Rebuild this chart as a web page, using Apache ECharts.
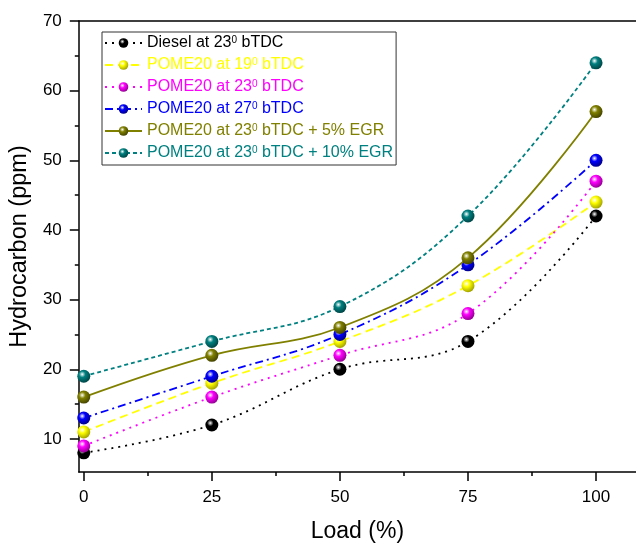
<!DOCTYPE html>
<html>
<head>
<meta charset="utf-8">
<script src="https://cdn.jsdelivr.net/npm/echarts@6/dist/echarts.min.js"></script>
<style>html,body{margin:0;padding:0;background:#fff}#c{width:636px;height:548px}</style>
</head>
<body>
<div id="c"></div>
<script>
const loads = [0, 25, 50, 75, 100];
const diesel23 = [8, 12, 20, 24, 42];
const pome19 = [11, 18, 24, 32, 44];
const pome23 = [9, 16, 22, 28, 47];
const pome27 = [13, 19, 25, 35, 50];
const pome23egr5 = [16, 22, 26, 36, 57];
const pome23egr10 = [19, 24, 29, 42, 64];
const namePrefix = ['Diesel at 23', 'POME20 at 19', 'POME20 at 23', 'POME20 at 27', 'POME20 at 23', 'POME20 at 23'];
const nameSup = ['0', '0', '0', '0', '0', '0'];
const nameSuffix = [' bTDC', ' bTDC', ' bTDC', ' bTDC', ' bTDC + 5% EGR', ' bTDC + 10% EGR'];
const xTicks = [0, 25, 50, 75, 100];
const xMinorTicks = [12.5, 37.5, 62.5, 87.5];
const yTicks = [10, 20, 30, 40, 50, 60, 70];
const yMinorTicks = [15, 25, 35, 45, 55, 65];

const values = [diesel23, pome19, pome23, pome27, pome23egr5, pome23egr10];
const colors = ['#000000', '#ffff00', '#ff00ff', '#0000ff', '#808000', '#008080'];
const darks = ['#000000', '#9a9a00', '#8a008a', '#000080', '#3f3f00', '#004040'];
const dashes = [[2, 5], [8, 5], [2, 5], [8, 4, 2, 4], 'solid', [4, 3]];
const names = namePrefix.map((p, i) => p + '\u2070' + nameSuffix[i]);
const FONT = 'Liberation Sans, Arial';

const rich = {};
colors.forEach((c, i) => {
  rich['p' + i] = { color: c, fontSize: 16, fontFamily: FONT, lineHeight: 16, verticalAlign: 'bottom' };
  rich['s' + i] = { color: c, fontSize: 10, fontFamily: FONT, lineHeight: 16, verticalAlign: 'top' };
});

const XMIN = -0.97, XMAX = 107.8, YMIN = 5.25, YMAX = 70;

const series = values.map((v, i) => ({
  name: names[i],
  type: 'line',
  xAxisIndex: 0,
  yAxisIndex: 0,
  data: loads.map((x, j) => [x, v[j]]),
  smooth: 0.4,
  symbol: 'circle',
  symbolSize: 13,
  lineStyle: { color: colors[i], width: 1.8, type: dashes[i] },
  itemStyle: {
    color: {
      type: 'radial', x: 0.38, y: 0.35, r: 0.7,
      colorStops: [
        { offset: 0, color: '#ffffff' },
        { offset: 0.35, color: colors[i] },
        { offset: 1, color: darks[i] }
      ]
    },
    borderWidth: 0
  },
  emphasis: { disabled: true },
  z: 3 + i
}));

const axisCommon = {
  type: 'value', min: XMIN, max: XMAX,
  splitLine: { show: false }
};

const option = {
  animation: false,
  backgroundColor: '#ffffff',
  grid: { left: 76, right: 0, top: 21, bottom: 75, containLabel: false },
  legend: {
    orient: 'vertical',
    left: 102, top: 32,
    itemWidth: 37, itemHeight: 12, itemGap: 6,
    padding: [3, 3, 4, 2],
    borderColor: '#333', borderWidth: 1,
    data: names,
    formatter: function (n) {
      const i = names.indexOf(n);
      return '{p' + i + '|' + namePrefix[i] + '}{s' + i + '|' + nameSup[i] + '}{p' + i + '|' + nameSuffix[i] + '}';
    },
    textStyle: { fontSize: 16, fontFamily: FONT, rich: rich }
  },
  xAxis: [
    Object.assign({}, axisCommon, {
      position: 'bottom',
      name: 'Load (%)', nameLocation: 'middle', nameGap: 48,
      nameTextStyle: { fontSize: 23, color: '#000', fontFamily: FONT },
      axisLine: { show: true, onZero: false, lineStyle: { color: '#000', width: 1.5 } },
      axisTick: { show: true, inside: false, length: 9, customValues: xTicks, lineStyle: { color: '#000', width: 1.5 } },
      axisLabel: { show: true, customValues: xTicks, margin: 17, fontSize: 17, color: '#000', fontFamily: FONT }
    }),
    Object.assign({}, axisCommon, {
      position: 'bottom',
      axisLine: { show: false, onZero: false },
      axisTick: { show: true, inside: false, length: 4, customValues: xMinorTicks, lineStyle: { color: '#000', width: 1.5 } },
      axisLabel: { show: false }
    }),
    Object.assign({}, axisCommon, {
      position: 'top',
      axisLine: { show: true, onZero: false, lineStyle: { color: '#000', width: 1.5 } },
      axisTick: { show: false },
      axisLabel: { show: false }
    })
  ],
  yAxis: [
    {
      type: 'value', min: YMIN, max: YMAX, position: 'left',
      name: 'Hydrocarbon (ppm)', nameLocation: 'middle', nameGap: 43,
      nameTextStyle: { fontSize: 23.5, color: '#000', fontFamily: FONT },
      splitLine: { show: false },
      axisLine: { show: true, onZero: false, lineStyle: { color: '#000', width: 1.5 } },
      axisTick: { show: true, inside: false, length: 9, customValues: yTicks, lineStyle: { color: '#000', width: 1.5 } },
      axisLabel: { show: true, customValues: yTicks, margin: 17, fontSize: 17, color: '#000', fontFamily: FONT }
    },
    {
      type: 'value', min: YMIN, max: YMAX, position: 'left',
      splitLine: { show: false },
      axisLine: { show: false, onZero: false },
      axisTick: { show: true, inside: false, length: 4, customValues: yMinorTicks, lineStyle: { color: '#000', width: 1.5 } },
      axisLabel: { show: false }
    }
  ],
  series: series
};

const chart = echarts.init(document.getElementById('c'), null, { renderer: 'canvas' });
chart.setOption(option);
</script>
</body>
</html>
